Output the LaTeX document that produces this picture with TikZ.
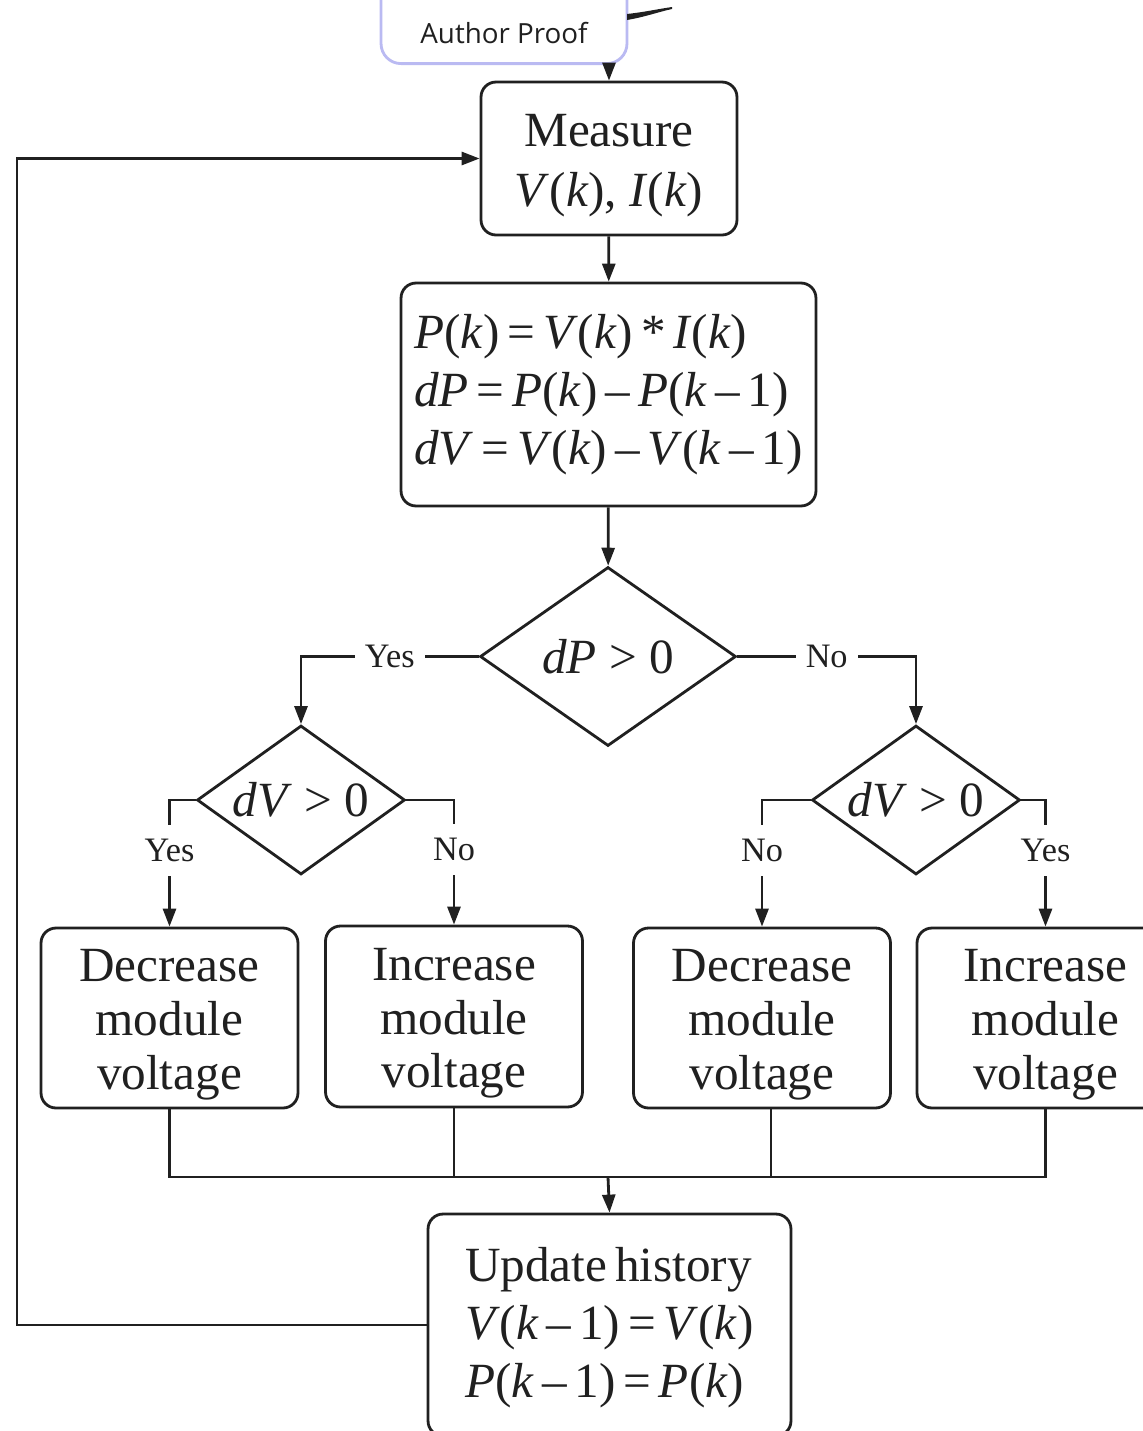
\documentclass[tikz,border=0pt]{standalone}
\usepackage{fontspec}
\setmainfont{Liberation Serif}
\newfontfamily\proofsans{Open Sans}
\usetikzlibrary{shapes.geometric,arrows.meta}

\definecolor{ink}{RGB}{32,32,32}
\definecolor{tabline}{RGB}{186,186,242}
\newcommand{\mv}[1]{\textit{#1}}
\newcommand{\topstrut}{\rule{0pt}{0.93em}}
\newcommand{\mathlines}{\fontsize{28}{33}\selectfont
    \spaceskip=0.16em plus 0.05em minus 0.03em\relax}

\begin{document}
\begin{tikzpicture}[x=0.02cm, y=-0.02cm,
            line width=1.6pt,
            draw=ink,
            >={Triangle[length=0.36cm,width=0.26cm]},
            stepbox/.style={
                draw=ink,
                fill=white,
                rounded corners=0.3cm,
                inner sep=0pt,
                align=center,
                text=ink,
                font=\fontsize{28}{30.5}\selectfont
            },
            mathbox/.style={
                stepbox,
                align=left,
                font=\mathlines
            },
            decision/.style={
                draw=ink,
                diamond,
                aspect=1.4,
                inner sep=0pt,
                text=ink,
                font=\fontsize{28}{30}\selectfont
            },
            answer/.style={
                fill=white,
                inner xsep=0.2cm,
                inner ysep=0.28cm,
                text=ink,
                font=\fontsize{19.5}{22}\selectfont
            },
            tabbox/.style={
                draw=tabline,
                fill=white,
                rounded corners=0.4cm,
                minimum width=4.92cm,
                minimum height=2cm
            }
        ]
        \useasboundingbox (0,0) rectangle (1143,1431);
        \clip (0,0) rectangle (1143,1431);

        % Proof tab at the top edge
        \node[tabbox, anchor=south] (tab) at (504,65) {};
        \node[text=ink, font=\proofsans\fontsize{15.8}{18}\selectfont]
            (proof) at (504,33) {Author Proof};
        \fill[ink] (627,14) .. controls (645,12) and (658,9) .. (672,7)
            -- (672,9) .. controls (658,12) and (645,17) .. (627,20) -- cycle;

        % Measure
        \node[stepbox,
            minimum width=5.12cm,
            minimum height=3.06cm,
            font=\fontsize{28}{34}\selectfont
        ] (meas) at (609,158.5) {\topstrut Measure\\\mv{V}(\mv{k}), \mv{I}(\mv{k})};

        % Power and differences
        \node[mathbox,
            minimum width=8.3cm,
            minimum height=4.46cm
        ] (calc) at (608.5,394.5)
            {\mv{P}(\mv{k}) = \mv{V}(\mv{k}) * \mv{I}(\mv{k})\\
             \mv{dP} = \mv{P}(\mv{k}) – \mv{P}(\mv{k} – 1)\\
             \mv{dV} = \mv{V}(\mv{k}) – \mv{V}(\mv{k} – 1)};

        % Decisions
        \node[decision, minimum width=5.12cm, minimum height=3.58cm]
            (dp) at (608,656.5) {\mv{dP} > 0};
        \node[decision, minimum width=4.16cm, minimum height=2.98cm]
            (dvl) at (301,800) {\mv{dV} > 0};
        \node[decision, minimum width=4.16cm, minimum height=2.98cm]
            (dvr) at (916,800) {\mv{dV} > 0};

        % Voltage steps
        \node[stepbox, minimum width=5.14cm, minimum height=3.6cm]
            (decl) at (169.5,1018) {\topstrut Decrease\\module\\voltage};
        \node[stepbox, minimum width=5.14cm, minimum height=3.62cm]
            (incl) at (454,1016.5) {\topstrut Increase\\module\\voltage};
        \node[stepbox, minimum width=5.14cm, minimum height=3.6cm]
            (decr) at (762,1018) {\topstrut Decrease\\module\\voltage};
        \node[stepbox, minimum width=5.14cm, minimum height=3.6cm]
            (incr) at (1045.5,1018) {\topstrut Increase\\module\\voltage};

        % Update history
        \node[mathbox,
            minimum width=7.26cm,
            minimum height=4.44cm
        ] (upd) at (609.5,1325)
            {\rule{0pt}{0.82em}Update history\\
             \mv{V}(\mv{k} – 1) = \mv{V}(\mv{k})\\
             \mv{P}(\mv{k} – 1) = \mv{P}(\mv{k})};

        \coordinate (merge) at (608,1177);
        \coordinate (back) at (17,1325);

        % Connectors
        \draw[->] (tab.south -| meas.north) -- (meas.north);
        \draw[->] (meas) -- (calc);
        \draw[->] (calc) -- (dp);
        \draw[->] (dp.west) -| node[answer, pos=.25] {Yes} (dvl.north);
        \draw[->] (dp.east) -| node[answer, pos=.25] {No} (dvr.north);
        \draw[->] (dvl.west) -| node[answer, pos=.7] {Yes} (decl.north);
        \draw[->] (dvl.east) -| node[answer, pos=.7] {No} (incl.north);
        \draw[->] (dvr.west) -| node[answer, pos=.7] {No} (decr.north);
        \draw[->] (dvr.east) -| node[answer, pos=.7] {Yes} (incr.north);

        \draw (decl.south) |- (merge);
        \draw (incr.south) |- (merge);
        \draw (incl.south) -- (incl.south |- merge);
        \draw ([xshift=0.18cm]decr.south) -- ([xshift=0.18cm]decr.south |- merge);
        \draw[->] (merge) -- (upd.north);
        \draw[->] (upd.west) -- (back) |- (meas.west);
        \end{tikzpicture}
\end{document}
